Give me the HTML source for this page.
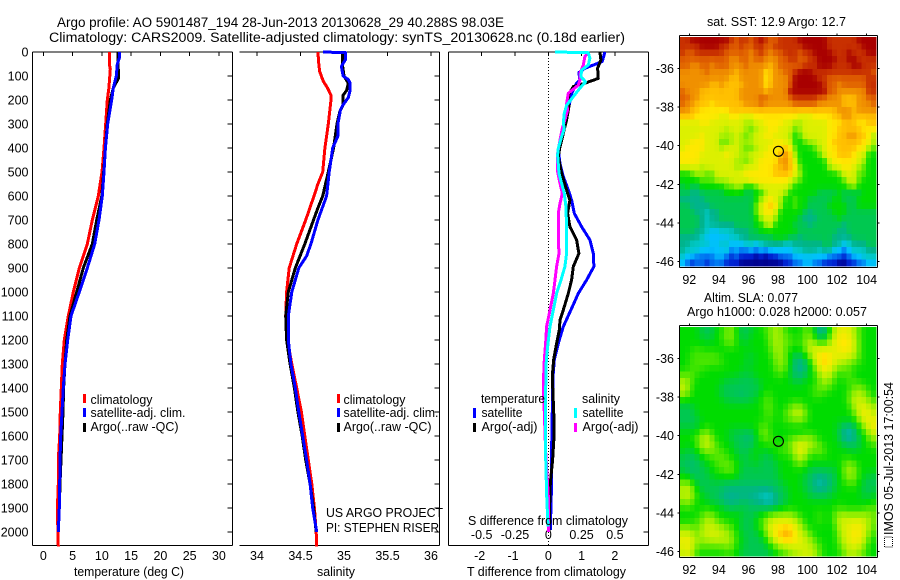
<!DOCTYPE html>
<html>
<head>
<meta charset="utf-8">
<title>Argo profile</title>
<style>
html,body{margin:0;padding:0;background:#fff;}
svg{display:block;font-family:"Liberation Sans",Arial,sans-serif;font-size:12.5px;fill:#000;}
</style>
</head>
<body>
<svg id="chart" xmlns="http://www.w3.org/2000/svg" width="900" height="580" viewBox="0 0 900 580">
<rect x="0" y="0" width="900" height="580" fill="#fff"/>
<g id="maps"></g>
<g id="axes"></g>
<g id="series"></g>

<text x="57" y="27" font-size="13.5" textLength="447" lengthAdjust="spacingAndGlyphs">Argo profile: AO 5901487_194 28-Jun-2013 20130628_29 40.288S 98.03E</text>
<text x="49" y="42" font-size="13.5" textLength="576" lengthAdjust="spacingAndGlyphs">Climatology: CARS2009. Satellite-adjusted climatology: synTS_20130628.nc (0.18d earlier)</text>

<text x="74" y="576" font-size="12.5" textLength="110" lengthAdjust="spacingAndGlyphs">temperature (deg C)</text>
<text x="317" y="576" font-size="12.5" textLength="38" lengthAdjust="spacingAndGlyphs">salinity</text>
<text x="467" y="576" font-size="12.5" textLength="159" lengthAdjust="spacingAndGlyphs">T difference from climatology</text>
<text x="468" y="525" font-size="12.5" textLength="160" lengthAdjust="spacingAndGlyphs">S difference from climatology</text>

<g>
<rect x="83" y="394" width="3" height="9" fill="#f00"/>
<rect x="83" y="408" width="3" height="9" fill="#00f"/>
<rect x="83" y="423" width="3" height="9" fill="#000"/>
<text x="90.5" y="404" textLength="62" lengthAdjust="spacingAndGlyphs">climatology</text>
<text x="90.5" y="417" textLength="95" lengthAdjust="spacingAndGlyphs">satellite-adj. clim.</text>
<text x="90.5" y="431" textLength="88" lengthAdjust="spacingAndGlyphs">Argo(..raw -QC)</text>
</g>
<g>
<rect x="337" y="394" width="3" height="9" fill="#f00"/>
<rect x="337" y="408" width="3" height="9" fill="#00f"/>
<rect x="337" y="423" width="3" height="9" fill="#000"/>
<text x="343.5" y="404" textLength="62" lengthAdjust="spacingAndGlyphs">climatology</text>
<text x="343.5" y="417" textLength="95" lengthAdjust="spacingAndGlyphs">satellite-adj. clim.</text>
<text x="343.5" y="431" textLength="88" lengthAdjust="spacingAndGlyphs">Argo(..raw -QC)</text>
</g>
<text x="326" y="517" textLength="117" lengthAdjust="spacingAndGlyphs">US ARGO PROJECT</text>
<text x="326" y="532" textLength="113" lengthAdjust="spacingAndGlyphs">PI: STEPHEN RISER</text>

<g>
<text x="481" y="403" textLength="64" lengthAdjust="spacingAndGlyphs">temperature</text>
<rect x="473" y="408" width="3" height="10" fill="#00f"/>
<text x="481.5" y="417" textLength="41" lengthAdjust="spacingAndGlyphs">satellite</text>
<rect x="473" y="423" width="3" height="9" fill="#000"/>
<text x="481.5" y="431" textLength="56" lengthAdjust="spacingAndGlyphs">Argo(-adj)</text>
<text x="582" y="403" textLength="38" lengthAdjust="spacingAndGlyphs">salinity</text>
<rect x="574" y="408" width="3" height="10" fill="#0ff"/>
<text x="582.5" y="417" textLength="41" lengthAdjust="spacingAndGlyphs">satellite</text>
<rect x="574" y="423" width="3" height="9" fill="#f0f"/>
<text x="582.5" y="431" textLength="56" lengthAdjust="spacingAndGlyphs">Argo(-adj)</text>
</g>

<text x="707" y="26" textLength="139" lengthAdjust="spacingAndGlyphs">sat. SST: 12.9 Argo: 12.7</text>
<text x="704" y="302" textLength="94" lengthAdjust="spacingAndGlyphs">Altim. SLA: 0.077</text>
<text x="687" y="316" textLength="180" lengthAdjust="spacingAndGlyphs">Argo h1000: 0.028 h2000: 0.057</text>

<rect x="884.5" y="537" width="8" height="10" fill="none" stroke="#000" stroke-width="1" stroke-dasharray="1 1"/>
<text transform="translate(893,535) rotate(-90)" x="0" y="0" textLength="153" lengthAdjust="spacingAndGlyphs">IMOS 05-Jul-2013 17:00:54</text>
</svg>

<script>
// ---------- tick labels ----------
const depthTicks = [0,100,200,300,400,500,600,700,800,900,1000,1100,1200,1300,1400,1500,1600,1700,1800,1900,2000];
const tempTicks = [0,5,10,15,20,25,30];
const salTicks = [34,34.5,35,35.5,36];
const tDiffTicks = [-2,-1,0,1,2];
const sDiffTicks = [-0.5,-0.25,0,0.25,0.5];
const lonTicks = [92,94,96,98,100,102,104];
const latTicks = [-36,-38,-40,-42,-44,-46];

// ---------- temperature profiles ----------
const tempClimDepth = [0,50,70,100,150,200,300,400,500,600,700,800,900,1000,1100,1200,1300,1400,1500,1600,1700,1800,1900,2000,2060];
const tempClimValue = [11.28,11.28,11.45,11.35,11.2,10.93,10.65,10.37,10.03,9.4,8.37,7.52,6.15,5.13,4.27,3.59,3.25,3.08,2.9,2.8,2.56,2.56,2.4,2.5,2.56];
const tempSatDepth = [0,25,50,100,150,200,300,400,500,600,700,800,900,1000,1100,1200,1300,1400,1500,1600,1700,1800,1900,2000];
const tempSatValue = [12.98,12.98,12.64,12.47,11.96,11.68,11,10.6,10.37,10.08,9.51,8.78,7.52,6.15,4.73,4.17,3.7,3.42,3.19,2.97,2.85,2.8,2.73,2.56];
const tempArgoDepth = [0,110,150,200,300,400,500,600,700,800,900,1000,1100,1200,1300,1400,1500,1600,1700,1800,1900,2000];
const tempArgoValue = [12.76,12.82,11.96,11.45,10.93,10.6,10.32,10,9.12,8.37,6.83,5.7,4.56,4,3.7,3.47,3.36,3.19,3.03,2.85,2.73,2.56];

// ---------- salinity profiles ----------
const salClimDepth = [0,50,80,120,150,180,200,300,400,500,550,600,700,800,900,1000,1100,1200,1300,1400,1500,1600,1700,1800,1900,2000,2060];
const salClimValue = [34.7,34.71,34.72,34.76,34.81,34.85,34.85,34.82,34.78,34.755,34.7,34.655,34.56,34.456,34.37,34.34,34.33,34.349,34.4,34.456,34.51,34.55,34.59,34.63,34.66,34.68,34.685];
const salSatDepth = [0,3,15,30,60,100,115,130,160,190,220,240,300,350,400,500,600,700,800,850,900,1000,1100,1200,1300,1400,1500,1600,1700,1800,1900,2000];
const salSatValue = [34.76,35.02,35.02,35.02,34.97,34.99,35.05,35.07,35.07,35.05,34.99,34.96,34.93,34.93,34.87,34.83,34.8,34.7,34.62,34.57,34.48,34.4,34.36,34.36,34.39,34.44,34.48,34.525,34.57,34.61,34.64,34.686];
const salArgoDepth = [0,50,100,130,160,180,220,250,300,400,500,600,650,700,800,900,1000,1100,1200,1300,1400,1500,1600,1700,1800,1900,2000];
const salArgoValue = [34.98,34.98,35,35.05,35.03,34.99,34.99,34.95,34.92,34.88,34.82,34.755,34.7,34.65,34.55,34.44,34.36,34.33,34.34,34.38,34.43,34.47,34.52,34.56,34.61,34.65,34.68];

// ---------- difference profiles (T units; S differences are plotted on the scaled top axis) ----------
const diffTSatDepth = [0,40,68,86,117,130,172,228,297,353,408,464,519,575,617,672,728,783,839,894,950,1006,1075,1144,1214,1283,1353,1492,1658,1797,1992];
const diffTSatValue = [1.7,1.62,1.1,0.92,0.95,0.85,0.7,0.62,0.5,0.4,0.3,0.35,0.45,0.6,0.7,0.78,1,1.25,1.35,1.37,1.15,0.9,0.68,0.45,0.3,0.18,0.14,0.12,0.1,0.1,0.06];
const diffTArgoDepth = [0,33,68,110,130,144,179,228,283,339,394,436,506,575,617,672,728,783,839,894,950,1006,1075,1117,1158,1214,1283,1353,1533,1603,1700,1797,1900,2000];
const diffTArgoValue = [1.55,1.58,1.48,1.5,1.1,0.75,0.6,0.62,0.55,0.45,0.35,0.3,0.4,0.55,0.65,0.58,0.65,0.85,0.92,0.75,0.7,0.6,0.45,0.35,0.33,0.25,0.16,0.12,0.17,0.17,0.13,0.06,0.04,0.02];
const diffSArgoDepth = [0,19,54,89,117,138,172,214,242,283,318,367,422,492,547,589,631,672,783,839,894,950,1006,1075,1144,1214,1283,1353,1408,1500,1660,1850,2000];
const diffSArgoValue = [0.3,0.275,0.2625,0.2375,0.2375,0.225,0.15,0.1375,0.145,0.125,0.105,0.0875,0.07,0.0675,0.0875,0.105,0.0875,0.075,0.075,0.08,0.0625,0.05,0.0375,0.0125,-0.0125,-0.02,-0.03,-0.035,-0.0375,-0.03,-0.02,0,0];
const diffSSatDepth = [0,3,26,54,75,103,124,151,186,222,256,297,318,353,401,429,506,547,589,644,728,839,894,950,1006,1075,1144,1214,1283,1422,1630,1839,1978];
const diffSSatValue = [0.05,0.3,0.3125,0.3,0.25,0.245,0.28,0.2375,0.1875,0.1375,0.12,0.1125,0.12,0.1,0.075,0.07,0.08,0.1,0.12,0.1325,0.1375,0.1375,0.125,0.095,0.0625,0.0375,0.0125,-0.0025,-0.015,-0.02,-0.0225,-0.0125,-0.0025];

// ---------- map cells: colour level per cell (0 = coldest/lowest, 16 = warmest/highest) ----------
const sstValues = [
[15,15,16,16,16,16,16,16,16,16,15,14,15,15,14,15,16,15,14,14,15,15,15,15,16,16,16,16,16,16,15,15,15,15,15,15,16,16,16,16],
[15,15,15,15,16,16,16,16,15,15,14,14,15,14,14,15,15,14,14,15,15,15,15,15,15,16,16,16,16,16,15,15,15,15,15,15,15,16,16,16],
[15,14,14,15,15,15,15,15,15,14,14,14,14,14,13,14,15,14,13,14,14,15,15,15,14,15,15,16,16,16,16,15,15,15,16,15,15,15,16,16],
[14,14,14,14,14,14,14,14,14,14,13,13,14,14,13,14,14,13,13,13,14,14,15,15,14,14,15,15,16,16,16,16,15,15,16,16,15,15,15,15],
[14,14,13,13,14,14,13,14,14,14,13,13,13,14,13,13,13,13,12,13,14,14,14,14,14,15,15,15,16,16,16,15,15,15,15,16,16,15,15,15],
[13,13,13,13,13,14,13,13,13,13,13,12,13,13,13,13,13,11,12,13,13,14,14,15,16,16,16,15,15,15,15,15,15,15,15,15,15,15,15,14],
[13,13,13,13,13,13,13,13,13,13,12,12,13,13,13,13,13,11,12,13,13,13,14,16,16,16,16,16,15,15,14,14,14,14,14,14,14,14,15,15],
[13,13,13,13,13,13,12,12,13,12,12,12,12,13,13,13,13,11,12,13,13,13,14,16,16,16,16,16,16,15,14,14,13,14,14,14,14,14,15,15],
[14,13,13,13,12,12,12,12,12,12,12,12,13,13,13,13,13,12,13,13,13,13,16,16,16,16,16,16,16,16,14,14,13,13,13,13,13,13,15,15],
[14,14,13,13,12,12,12,12,12,12,12,12,13,13,13,13,14,14,13,13,13,13,14,15,15,15,15,15,14,14,13,13,13,12,12,12,13,13,14,14],
[14,13,13,12,12,12,11,12,12,12,12,12,12,13,13,13,14,13,13,13,13,13,13,14,14,14,14,14,13,13,13,13,13,12,12,12,13,13,13,14],
[13,13,12,12,11,11,11,11,11,11,12,12,12,12,12,12,12,12,12,12,12,12,12,12,12,12,12,12,12,12,12,12,13,13,13,12,13,13,13,13],
[12,12,12,11,11,11,11,11,10,10,11,11,10,10,10,11,11,11,11,11,11,11,11,11,10,10,10,11,11,11,11,12,12,13,13,12,12,12,12,12],
[10,10,10,10,11,11,10,10,10,10,10,10,10,9,9,10,10,11,11,11,11,10,10,9,9,10,10,10,10,10,11,11,11,12,12,12,11,11,12,12],
[10,10,10,10,10,10,10,10,10,9,10,10,10,9,8,9,10,10,11,11,10,10,10,8,9,10,10,10,10,10,11,11,12,12,12,12,12,11,11,11],
[10,10,10,10,11,10,10,10,9,9,9,10,9,8,9,10,10,11,11,10,10,10,9,7,8,10,10,10,10,10,11,11,12,12,13,13,12,12,11,9],
[10,10,11,11,11,10,10,10,8,8,9,10,9,9,9,10,10,10,10,11,11,10,10,7,7,8,9,9,10,10,11,12,12,12,12,12,12,11,11,9],
[10,11,11,11,11,10,10,10,9,10,10,10,9,8,8,9,10,10,11,11,11,12,11,8,7,7,7,8,9,10,11,11,12,12,12,12,11,11,9,8],
[11,11,11,11,10,10,10,10,10,11,10,10,9,9,10,10,10,11,11,11,12,13,12,9,7,7,7,7,8,10,11,11,12,12,12,11,10,10,7,7],
[11,11,11,11,10,10,10,10,10,10,10,9,9,8,9,10,11,11,11,11,13,13,12,10,7,7,7,7,7,7,10,11,11,11,11,11,10,9,7,7],
[10,10,10,10,9,10,10,10,10,10,10,9,9,10,10,10,11,11,11,12,12,13,12,11,8,7,7,7,7,7,9,10,10,11,11,10,9,8,7,7],
[7,7,8,9,9,8,8,10,10,10,10,10,10,11,11,11,11,11,11,12,12,12,12,10,9,7,7,7,7,7,7,7,8,10,10,10,8,8,7,7],
[7,7,7,7,8,8,8,9,9,9,10,10,10,10,11,11,11,11,11,11,11,11,10,9,8,7,7,7,7,7,7,7,7,8,10,10,8,7,7,7],
[6,7,6,6,7,7,7,7,7,8,8,9,9,7,7,8,10,10,10,10,10,10,9,7,7,7,7,7,7,7,7,7,7,7,8,9,7,7,7,7],
[6,6,5,5,6,6,6,6,6,7,7,7,7,6,6,7,7,9,10,10,10,9,7,7,7,7,7,7,6,6,6,6,7,6,6,6,6,7,7,7],
[5,5,5,5,5,6,6,6,6,6,6,6,6,6,6,7,9,10,11,10,9,7,7,8,7,7,6,6,6,6,6,7,7,6,6,6,7,7,7,7],
[6,6,5,5,5,5,6,6,6,6,6,6,6,6,6,8,10,11,12,11,9,7,7,8,7,7,6,6,6,6,7,7,7,7,6,6,7,7,7,7],
[6,6,6,5,5,4,5,5,6,6,6,6,6,6,6,8,10,11,11,10,7,7,7,7,7,6,5,6,6,6,6,7,7,7,6,6,6,6,6,6],
[6,6,6,6,5,4,5,5,6,6,6,6,6,6,6,7,9,10,10,9,7,7,7,7,6,5,5,5,6,6,6,6,7,6,6,6,6,6,6,6],
[6,6,6,6,5,4,5,5,5,5,5,6,6,6,6,7,7,9,10,7,7,7,7,6,6,6,5,6,6,6,6,6,6,5,6,6,6,6,6,6],
[6,6,6,5,5,4,3,3,4,4,4,5,5,5,6,6,7,7,7,7,7,7,7,7,6,6,6,6,6,6,6,6,5,5,6,6,6,6,6,6],
[5,5,5,5,4,3,3,3,3,3,4,4,5,5,6,6,6,6,6,7,7,7,6,6,5,6,6,6,6,6,6,5,5,5,5,6,6,6,6,6],
[5,5,4,4,4,4,3,3,4,4,3,3,3,4,4,3,4,5,5,5,5,4,4,5,5,5,5,5,5,6,6,5,5,3,4,5,5,5,6,6],
[5,4,4,4,3,3,3,3,3,4,2,3,2,2,3,2,3,2,3,3,3,3,3,4,4,5,5,5,4,5,5,3,3,2,3,4,4,4,5,5],
[4,3,3,2,2,2,2,3,3,2,1,2,1,1,1,0,1,0,1,1,2,2,2,3,3,3,3,3,3,3,2,2,2,1,2,3,3,4,4,4],
[3,2,1,2,2,1,2,2,2,1,1,1,0,0,0,0,0,0,0,0,0,1,1,2,2,3,3,2,2,1,1,1,0,0,1,1,2,2,3,3]
];
const slaValues = [
[7,7,7,7,6,6,6,7,7,8,9,7,6,6,6,7,7,8,8,9,9,7,7,7,7,8,8,6,5,5,7,9,10,10,10,9,8,7,7,7],
[7,7,7,7,6,6,6,7,8,8,9,7,6,6,7,7,7,7,9,9,9,8,8,7,7,8,9,7,5,5,8,10,11,11,11,9,8,7,7,7],
[7,7,7,7,7,7,7,7,7,8,9,7,7,6,7,7,7,7,8,9,9,8,8,8,7,9,9,9,8,8,9,10,11,11,11,10,8,7,7,7],
[7,7,7,8,7,7,7,7,7,7,7,7,7,7,7,7,7,7,8,9,9,8,7,7,7,8,10,10,10,10,10,10,11,11,11,10,8,7,7,7],
[7,7,8,8,8,8,8,8,7,7,7,7,7,7,6,7,7,7,7,9,9,8,7,6,6,7,9,10,11,12,11,10,10,10,10,9,8,7,7,7],
[7,7,8,7,8,8,8,8,8,7,7,7,7,6,6,7,7,7,7,8,9,8,7,5,5,5,7,9,11,12,11,10,10,9,9,8,8,7,7,7],
[7,7,8,8,8,7,7,7,7,7,7,7,7,7,7,7,7,7,7,8,9,8,7,5,5,5,7,8,10,11,10,9,8,8,8,7,7,7,7,7],
[8,8,8,7,7,7,7,7,7,7,7,7,6,6,6,7,7,7,7,7,8,7,6,6,5,6,7,7,9,10,10,8,7,8,8,7,7,7,7,7],
[9,9,8,7,7,7,7,7,7,6,6,6,6,6,6,6,7,7,7,7,7,7,7,6,6,7,7,7,8,9,8,8,7,7,8,8,7,7,7,7],
[10,9,7,7,7,7,7,7,6,6,6,6,6,6,6,6,6,7,7,7,7,7,7,7,7,7,7,8,8,9,8,7,7,7,7,8,9,8,7,7],
[9,9,7,7,7,7,7,7,6,6,6,6,5,6,6,6,7,8,7,7,7,7,7,7,7,7,7,8,8,7,7,7,7,7,8,9,9,9,8,7],
[7,7,7,7,7,7,7,7,7,6,6,6,6,6,6,7,7,8,8,7,7,7,7,7,7,7,7,7,7,7,7,7,7,7,8,10,10,9,9,7],
[6,6,6,7,7,7,7,7,7,7,7,7,7,7,7,7,7,8,8,7,7,7,8,9,9,7,7,7,7,7,7,7,7,7,7,9,10,10,10,9],
[6,6,6,7,7,7,7,7,7,7,7,7,7,7,7,7,7,8,8,7,7,8,9,9,10,9,7,7,7,7,7,7,7,7,7,8,10,11,10,9],
[6,6,6,6,7,7,7,7,7,7,7,7,7,7,7,7,7,7,8,7,7,8,8,9,9,8,7,7,7,7,7,7,7,7,7,7,9,10,11,10],
[6,6,6,6,7,7,7,7,7,7,7,7,7,7,7,7,8,8,7,7,7,7,7,7,7,7,7,7,7,7,7,7,6,6,5,6,7,9,10,11],
[7,7,7,7,8,9,7,7,7,7,6,6,6,6,6,7,8,9,7,7,7,7,7,7,7,7,7,7,7,7,7,7,6,5,4,5,7,7,9,10],
[7,7,7,8,9,10,8,7,7,7,6,6,6,5,5,6,8,8,8,7,7,7,8,8,8,9,9,8,7,7,7,7,6,5,4,5,6,7,8,9],
[7,7,7,8,9,10,9,8,7,7,7,6,6,6,6,7,7,7,8,7,7,8,8,10,11,10,9,9,8,7,7,7,7,6,6,6,6,7,7,8],
[7,6,6,7,8,9,8,8,8,7,7,6,6,6,6,7,7,6,7,7,8,8,8,9,10,10,8,8,9,8,7,7,7,7,7,6,7,7,7,7],
[6,6,6,6,7,7,8,8,8,8,7,7,6,6,7,7,6,6,6,7,7,7,7,9,10,9,7,7,7,7,7,7,7,7,7,7,7,7,7,7],
[6,6,5,6,6,7,7,8,8,8,8,7,7,6,6,7,6,6,6,6,7,7,7,7,9,7,7,7,7,7,7,7,7,8,9,8,7,7,7,7],
[6,6,5,6,6,6,7,7,8,8,9,7,6,6,6,6,6,6,6,6,7,7,7,7,7,7,6,6,6,6,6,6,7,8,9,9,7,7,7,7],
[7,7,6,6,6,6,7,7,7,7,7,7,6,6,6,6,6,6,6,6,7,7,7,7,7,6,6,5,5,5,6,6,7,8,9,9,7,7,6,6],
[8,9,7,6,6,6,6,6,6,6,6,6,6,6,6,6,6,6,6,6,6,7,7,7,7,6,6,5,4,5,5,6,7,7,8,8,7,6,6,6],
[9,10,9,7,6,6,6,6,6,5,5,5,5,5,5,5,5,5,5,6,6,6,7,7,7,6,6,5,5,5,6,6,7,7,7,7,7,6,6,6],
[9,10,9,7,7,6,6,6,5,5,5,5,5,5,5,5,4,4,4,5,6,6,7,7,7,7,6,6,6,6,6,7,7,7,7,7,7,6,6,7],
[8,9,8,7,7,7,6,6,6,5,5,5,6,6,5,5,5,4,4,5,6,6,7,7,7,7,7,7,7,7,7,7,7,7,7,7,7,7,7,7],
[7,8,7,7,7,7,7,7,7,6,6,6,6,6,6,6,6,6,6,6,6,7,7,7,7,7,7,7,7,7,7,7,8,7,7,7,7,7,8,8],
[7,7,7,7,8,9,9,7,7,7,7,7,7,6,6,6,7,7,8,9,9,9,9,8,7,7,7,7,8,7,7,8,9,9,9,9,9,9,9,8],
[7,7,7,8,8,9,9,8,8,7,7,7,6,6,6,7,8,9,10,10,10,10,10,10,9,7,7,7,8,7,7,8,10,10,10,10,10,10,9,8],
[8,9,8,8,9,10,10,9,9,8,8,7,6,6,6,7,7,9,10,11,11,12,11,10,9,8,7,7,7,7,7,7,9,10,10,11,11,10,9,8],
[10,10,9,8,9,10,10,10,10,9,9,7,7,6,6,6,7,8,10,11,12,13,13,11,10,9,8,7,7,7,7,7,9,10,10,11,11,10,9,7],
[10,11,10,9,9,9,9,10,9,9,9,7,7,6,6,6,6,7,9,10,11,12,11,11,10,10,9,8,7,7,7,7,8,10,10,11,11,9,8,7],
[10,11,10,8,8,8,8,8,8,9,9,7,7,6,6,6,6,6,7,8,9,9,10,10,10,10,9,9,8,7,7,7,8,9,10,10,10,9,7,7],
[9,10,9,7,7,7,7,7,7,7,7,7,6,6,6,6,6,6,6,7,7,8,8,9,9,10,10,9,8,7,7,7,7,8,9,9,8,8,7,7]
];
const floatLon = 98.03;
const floatLat = -40.288;

// ---------- axis functions ----------
const yDepth = d => 52 + 0.24 * d;
const xTemp = t => 43.3 + 5.855 * t;
const xSal = s => 257 + 87 * (s - 34);
const xDiff = t => 548.3 + 33.3 * t;
const xSDiff = s => 548.3 + 133.2 * s;
const xLon = lon => 689.3 + 14.78 * (lon - 92);
const yLat = (lat, off) => off + 68.7 + 19.26 * (-36 - lat);
const mapColors = [[0,0,140],[0,32,208],[0,112,240],[0,192,255],[0,200,200],[0,180,140],[0,200,80],[0,220,0],[88,232,0],[168,240,0],[220,240,0],[255,232,0],[255,192,0],[240,144,0],[224,96,0],[200,48,0],[168,0,0]];
function levelColor(v) {
  const t = Math.max(0, Math.min(mapColors.length - 1, v));
  const i = Math.min(mapColors.length - 2, Math.floor(t));
  const f = t - i;
  const c = [0, 1, 2].map(k => Math.round(mapColors[i][k] * (1 - f) + mapColors[i + 1][k] * f));
  return 'rgb(' + c.join(',') + ')';
}
// Blend each cell with its neighbours: the reference field is gridded and gradual.
function smoothCell(values, r, c, side) {
  let sum = 0, wt = 0;
  for (let dr = -1; dr <= 1; dr++) {
    for (let dc = -1; dc <= 1; dc++) {
      const row = values[r + dr];
      if (!row || row[c + dc] === undefined) continue;
      const w = (dr === 0 ? 1 : side) * (dc === 0 ? 1 : side);
      sum += row[c + dc] * w;
      wt += w;
    }
  }
  return sum / wt;
}

const NS = 'http://www.w3.org/2000/svg';
const axesLayer = document.getElementById('axes');
const seriesLayer = document.getElementById('series');
const mapsLayer = document.getElementById('maps');

function seg(x1, y1, x2, y2, name) {
  const el = document.createElementNS(NS, 'line');
  
  
  el.setAttribute('x1', x1); el.setAttribute('y1', y1);
  el.setAttribute('x2', x2); el.setAttribute('y2', y2);
  el.setAttribute('stroke', '#000');
  el.setAttribute('stroke-width', '1');
  el.setAttribute('shape-rendering', 'crispEdges');
  axesLayer.appendChild(el);
  return el;
}
function label(x, y, txt, anchor, name) {
  const el = document.createElementNS(NS, 'text');
  
  
  el.setAttribute('x', x); el.setAttribute('y', y);
  el.setAttribute('text-anchor', anchor);
  el.textContent = txt;
  axesLayer.appendChild(el);
}
function profile(depths, values, xFn, color, name) {
  const el = document.createElementNS(NS, 'polyline');
  
  
  el.setAttribute('points', depths.map((d, i) => xFn(values[i]).toFixed(1) + ',' + yDepth(d).toFixed(1)).join(' '));
  el.setAttribute('fill', 'none');
  el.setAttribute('stroke', color);
  el.setAttribute('stroke-width', '3');
  el.setAttribute('stroke-linejoin', 'round');
  el.setAttribute('shape-rendering', 'crispEdges');
  seriesLayer.appendChild(el);
}

// ---------- profile panel frames ----------
const TOP = 52, BOTTOM = 545.5;
function panel(left, right, hasLeftLine, tickFn, ticks, prefix) {
  seg(left, TOP, right, TOP, prefix + '-top-axis');
  seg(left, BOTTOM, right, BOTTOM, prefix + '-bottom-axis');
  seg(right, TOP, right, BOTTOM, prefix + '-right-axis');
  if (hasLeftLine) seg(left, TOP, left, BOTTOM, prefix + '-left-axis');
  ticks.forEach(t => seg(tickFn(t), TOP, tickFn(t), TOP + 4, prefix + '-top-tick'));
  depthTicks.forEach(d => seg(right - 5, yDepth(d), right, yDepth(d), prefix + '-depth-tick'));
}
panel(32.5, 232.5, true, xTemp, tempTicks, 'temperature-panel');
panel(239.5, 439.5, false, xSal, salTicks, 'salinity-panel');
panel(448.5, 648.5, true, xDiff, tDiffTicks, 'difference-panel');

depthTicks.forEach(d => label(28.5, yDepth(d) + 4.5, String(d), 'end', 'depth-tick-label'));
tempTicks.forEach(t => label(xTemp(t), 560, String(t), 'middle', 'temperature-tick-label'));
salTicks.forEach(s => label(xSal(s), 560, String(s), 'middle', 'salinity-tick-label'));
tDiffTicks.forEach(t => label(xDiff(t) - (t < 0 ? 2 : 0), 560, String(t), 'middle', 't-difference-tick-label'));
sDiffTicks.forEach(s => label(xSDiff(s), 539, String(s), 'middle', 's-difference-tick-label'));

const zeroLine = seg(xDiff(0), TOP, xDiff(0), BOTTOM, 'zero-difference-line');
zeroLine.setAttribute('stroke-dasharray', '1 2');

// ---------- profile series ----------
profile(tempClimDepth, tempClimValue, xTemp, '#f00', 'temperature-climatology-line');
profile(tempArgoDepth, tempArgoValue, xTemp, '#000', 'temperature-argo-line');
profile(tempSatDepth, tempSatValue, xTemp, '#00f', 'temperature-satellite-line');
profile(salClimDepth, salClimValue, xSal, '#f00', 'salinity-climatology-line');
profile(salArgoDepth, salArgoValue, xSal, '#000', 'salinity-argo-line');
profile(salSatDepth, salSatValue, xSal, '#00f', 'salinity-satellite-line');
profile(diffTSatDepth, diffTSatValue, xDiff, '#00f', 't-difference-satellite-line');
profile(diffTArgoDepth, diffTArgoValue, xDiff, '#000', 't-difference-argo-line');
profile(diffSArgoDepth, diffSArgoValue, xSDiff, '#f0f', 's-difference-argo-line');
profile(diffSSatDepth, diffSSatValue, xSDiff, '#0ff', 's-difference-satellite-line');

// ---------- maps ----------
function drawMap(values, off, prefix, side) {
  const left = 680, cellW = 196 / values[0].length, top = 37 + off, cellH = 229 / values.length;
  values.forEach((row, r) => {
    row.forEach((v, c) => {
      const cell = document.createElementNS(NS, 'rect');
      
      
      cell.setAttribute('x', (left + c * cellW).toFixed(2));
      cell.setAttribute('y', (top + r * cellH).toFixed(2));
      cell.setAttribute('width', (cellW + 0.3).toFixed(2));
      cell.setAttribute('height', (cellH + 0.3).toFixed(2));
      cell.setAttribute('fill', levelColor(smoothCell(values, r, c, side)));
      cell.setAttribute('shape-rendering', 'crispEdges');
      mapsLayer.appendChild(cell);
    });
  });
  const L = 679.5, R = 877.5, T = 35.5 + off, B = 267.5 + off;
  seg(L, T, R, T, prefix + '-top-border');
  seg(L, B, R, B, prefix + '-bottom-border');
  seg(L, T, L, B, prefix + '-left-border');
  seg(R, T, R, B, prefix + '-right-border');
  lonTicks.forEach(lon => {
    seg(xLon(lon), T - 2, xLon(lon), T, prefix + '-lon-tick');
    label(xLon(lon), 284 + off, String(lon), 'middle', prefix + '-lon-label');
  });
  latTicks.forEach(lat => {
    const y = yLat(lat, off);
    seg(L - 2, y, L, y, prefix + '-lat-tick');
    seg(R, y, R + 2, y, prefix + '-lat-tick');
    label(674, y + 4.5, String(lat), 'end', prefix + '-lat-label');
  });
  const ring = document.createElementNS(NS, 'circle');
  
  
  ring.setAttribute('cx', xLon(floatLon));
  ring.setAttribute('cy', yLat(floatLat, off));
  ring.setAttribute('r', '5');
  ring.setAttribute('fill', 'none');
  ring.setAttribute('stroke', '#000');
  ring.setAttribute('stroke-width', '1.1');
  axesLayer.appendChild(ring);
}
drawMap(sstValues, 0, 'sst-map', 0.2);
drawMap(slaValues, 290, 'sla-map', 0.55);
</script>
</body>
</html>
